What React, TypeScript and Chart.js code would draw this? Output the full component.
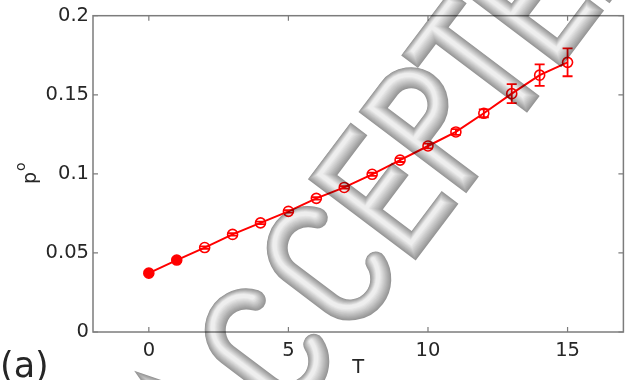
import React, { useEffect, useRef } from 'react';
import { Chart, registerables } from 'chart.js';

Chart.register(...registerables);

// Temperature steps and the measured p° with its standard error
const temperatures = [0, 1, 2, 3, 4, 5, 6, 7, 8, 9, 10, 11, 12, 13, 14, 15];
const pValues = [
  0.0372, 0.0455, 0.0534, 0.0617, 0.069, 0.0763, 0.0845, 0.0914,
  0.0997, 0.1087, 0.1176, 0.1265, 0.1383, 0.1507, 0.1624, 0.1705,
];
const pErrors = [
  0.0012, 0.0012, 0.0008, 0.0008, 0.0008, 0.0008, 0.0008, 0.0008,
  0.001, 0.0012, 0.0015, 0.0018, 0.0025, 0.006, 0.0068, 0.0088,
];

const xTicks = [0, 5, 10, 15];
const yTicks = [0, 0.05, 0.1, 0.15, 0.2];
const yTickLabels = ['0', '0.05', '0.1', '0.15', '0.2'];

const xTitle = 'T';
const yTitleBase = 'p';
const yTitleSup = 'o';
const panelLabel = '(a)';
const stampText = 'ACCEPTED';

const FONT = "'DejaVu Sans', Verdana, sans-serif";
const RED = '#ff0000';
const AXIS = '#7c7c7c';
const TEXT = '#262626';

const rad = (d: number) => (d * Math.PI) / 180;

// Box frame with inward-pointing ticks on all four sides
const framePlugin = {
  id: 'frame',
  beforeDatasetsDraw(chart: any) {
    const { ctx, chartArea, scales } = chart;
    const { left, right, top, bottom } = chartArea;
    ctx.save();
    ctx.strokeStyle = AXIS;
    ctx.lineWidth = 1.5;
    ctx.strokeRect(left, top, right - left, bottom - top);
    ctx.lineWidth = 1.2;
    ctx.beginPath();
    for (const v of xTicks) {
      const px = scales.x.getPixelForValue(v);
      ctx.moveTo(px, bottom);
      ctx.lineTo(px, bottom - 5);
      ctx.moveTo(px, top);
      ctx.lineTo(px, top + 5);
    }
    for (const v of yTicks) {
      const py = scales.y.getPixelForValue(v);
      ctx.moveTo(left, py);
      ctx.lineTo(left + 5, py);
      ctx.moveTo(right, py);
      ctx.lineTo(right - 5, py);
    }
    ctx.stroke();
    ctx.restore();
  },
};

// Vertical error bars with short caps
const errorBarPlugin = {
  id: 'errorBars',
  afterDatasetsDraw(chart: any) {
    const { ctx, scales } = chart;
    ctx.save();
    ctx.strokeStyle = RED;
    ctx.lineWidth = 1.8;
    ctx.beginPath();
    temperatures.forEach((t, i) => {
      const px = scales.x.getPixelForValue(t);
      const hi = scales.y.getPixelForValue(pValues[i] + pErrors[i]);
      const lo = scales.y.getPixelForValue(pValues[i] - pErrors[i]);
      ctx.moveTo(px, hi);
      ctx.lineTo(px, lo);
      ctx.moveTo(px - 5, hi);
      ctx.lineTo(px + 5, hi);
      ctx.moveTo(px - 5, lo);
      ctx.lineTo(px + 5, lo);
    });
    ctx.stroke();
    ctx.restore();
  },
};

// Stroke outline of one stamp letter, centred at the origin, 114 units tall
function letterPath(ctx: CanvasRenderingContext2D, ch: string) {
  ctx.beginPath();
  switch (ch) {
    case 'A':
      ctx.moveTo(-37, 57);
      ctx.lineTo(0, -57);
      ctx.lineTo(37, 57);
      ctx.moveTo(-23, 15);
      ctx.lineTo(23, 15);
      break;
    case 'C':
      ctx.arc(0, -26, 31, rad(-20), rad(-180), true);
      ctx.lineTo(-31, 26);
      ctx.arc(0, 26, 31, rad(180), rad(20), true);
      break;
    case 'E':
      ctx.moveTo(25, -57);
      ctx.lineTo(-25, -57);
      ctx.lineTo(-25, 57);
      ctx.lineTo(25, 57);
      ctx.moveTo(-25, 0);
      ctx.lineTo(18, 0);
      break;
    case 'P':
      ctx.moveTo(-27, 57);
      ctx.lineTo(-27, -57);
      ctx.lineTo(0, -57);
      ctx.arc(0, -30, 27, rad(-90), rad(90), false);
      ctx.lineTo(-27, -3);
      break;
    case 'T':
      ctx.moveTo(-30, -57);
      ctx.lineTo(30, -57);
      ctx.moveTo(0, -57);
      ctx.lineTo(0, 57);
      break;
    case 'D':
      ctx.moveTo(-30, 57);
      ctx.lineTo(-30, -57);
      ctx.lineTo(-2, -57);
      ctx.arc(-2, -25, 32, rad(-90), 0, false);
      ctx.lineTo(30, 25);
      ctx.arc(-2, 25, 32, 0, rad(90), false);
      ctx.closePath();
      break;
  }
}

// Diagonal embossed stamp laid over the whole figure
const stampPlugin = {
  id: 'stamp',
  afterDraw(chart: any) {
    const { ctx, width, height } = chart;
    const off = document.createElement('canvas');
    off.width = width;
    off.height = height;
    const g = off.getContext('2d')!;
    const ang = rad(53);
    const ux = Math.cos(ang);
    const uy = -Math.sin(ang);
    const nx = Math.sin(ang);
    const ny = Math.cos(ang);
    const along = [-215, -115, -12, 78, 164, 238, 320, 405];
    const across = 420;
    // Smooth tube shading: wide dark rim down to a narrow pale highlight
    const steps = 12;
    for (let k = 0; k < steps; k++) {
      const f = k / (steps - 1);
      const w = 21 - f * 17;
      const shade = Math.round(150 + f * 88);
      const dx = 0.8 - f * 2.6;
      const dy = 1.0 - f * 2.8;
      stampText.split('').forEach((ch, i) => {
        g.setTransform(1, 0, 0, 1, dx, dy);
        g.transform(ux, uy, nx, ny, 0, 0);
        g.translate(along[i], across);
        g.lineWidth = w;
        g.strokeStyle = `rgb(${shade},${shade},${shade})`;
        g.lineCap = ch === 'C' ? 'round' : 'square';
        g.lineJoin = 'miter';
        letterPath(g, ch);
        g.stroke();
      });
    }
    ctx.save();
    ctx.globalCompositeOperation = 'multiply';
    ctx.filter = 'blur(0.6px)';
    ctx.drawImage(off, 0, 0);
    ctx.restore();
  },
};

// Rotated y-axis title with superscript, and the panel tag
const labelsPlugin = {
  id: 'labels',
  afterDraw(chart: any) {
    const { ctx } = chart;
    ctx.save();
    ctx.fillStyle = TEXT;
    ctx.translate(36, 184);
    ctx.rotate(-Math.PI / 2);
    ctx.textBaseline = 'alphabetic';
    ctx.textAlign = 'left';
    ctx.font = `19px ${FONT}`;
    ctx.fillText(yTitleBase, 0, 0);
    ctx.font = `14px ${FONT}`;
    ctx.fillText(yTitleSup, 13, -11);
    ctx.restore();

    ctx.save();
    ctx.fillStyle = TEXT;
    ctx.font = `35px ${FONT}`;
    ctx.textBaseline = 'alphabetic';
    ctx.textAlign = 'left';
    ctx.fillText(panelLabel, 0, 377);
    ctx.restore();
  },
};

export default function App() {
  const canvasRef = useRef<HTMLCanvasElement | null>(null);

  useEffect(() => {
    const canvas = canvasRef.current;
    if (!canvas) return;
    const chart = new Chart(canvas, {
      type: 'line',
      data: {
        datasets: [
          {
            data: temperatures.map((t, i) => ({ x: t, y: pValues[i] })),
            borderColor: RED,
            borderWidth: 2,
            pointRadius: 5,
            pointBorderWidth: 1.6,
            pointBorderColor: RED,
            pointBackgroundColor: temperatures.map((_, i) => (i < 2 ? RED : 'rgba(255,255,255,0)')),
            tension: 0,
          },
        ],
      },
      options: {
        animation: false,
        responsive: false,
        devicePixelRatio: 1,
        layout: { padding: { top: 10, right: 2, left: 0, bottom: 0 } },
        plugins: { legend: { display: false }, tooltip: { enabled: false } },
        scales: {
          x: {
            type: 'linear',
            min: -2,
            max: 17,
            afterBuildTicks: (s: any) => {
              s.ticks = xTicks.map((v) => ({ value: v }));
            },
            afterFit: (s: any) => {
              s.height = 48;
            },
            grid: { display: false, drawTicks: false },
            border: { display: false },
            ticks: {
              padding: 7,
              color: TEXT,
              font: { family: FONT, size: 19.5 },
              maxRotation: 0,
            },
            title: {
              display: true,
              text: xTitle,
              color: TEXT,
              font: { family: FONT, size: 19.5 },
              padding: { top: 0, bottom: 0 },
            },
          },
          y: {
            type: 'linear',
            min: 0,
            max: 0.2,
            afterBuildTicks: (s: any) => {
              s.ticks = yTicks.map((v) => ({ value: v }));
            },
            afterFit: (s: any) => {
              s.width = 93;
            },
            grid: { display: false, drawTicks: false },
            border: { display: false },
            ticks: {
              padding: 4,
              color: TEXT,
              font: { family: FONT, size: 19.5 },
              callback: (v: any) => {
                const idx = yTicks.findIndex((t) => Math.abs(t - Number(v)) < 1e-9);
                return idx >= 0 ? yTickLabels[idx] : '';
              },
            },
          },
        },
      },
      plugins: [framePlugin, errorBarPlugin, stampPlugin, labelsPlugin],
    } as any);
    return () => chart.destroy();
  }, []);

  return (
    <div style={{ position: 'fixed', left: 0, top: 0, width: 630, height: 380, background: '#fff' }}>
      <canvas ref={canvasRef} width={630} height={380} />
    </div>
  );
}
